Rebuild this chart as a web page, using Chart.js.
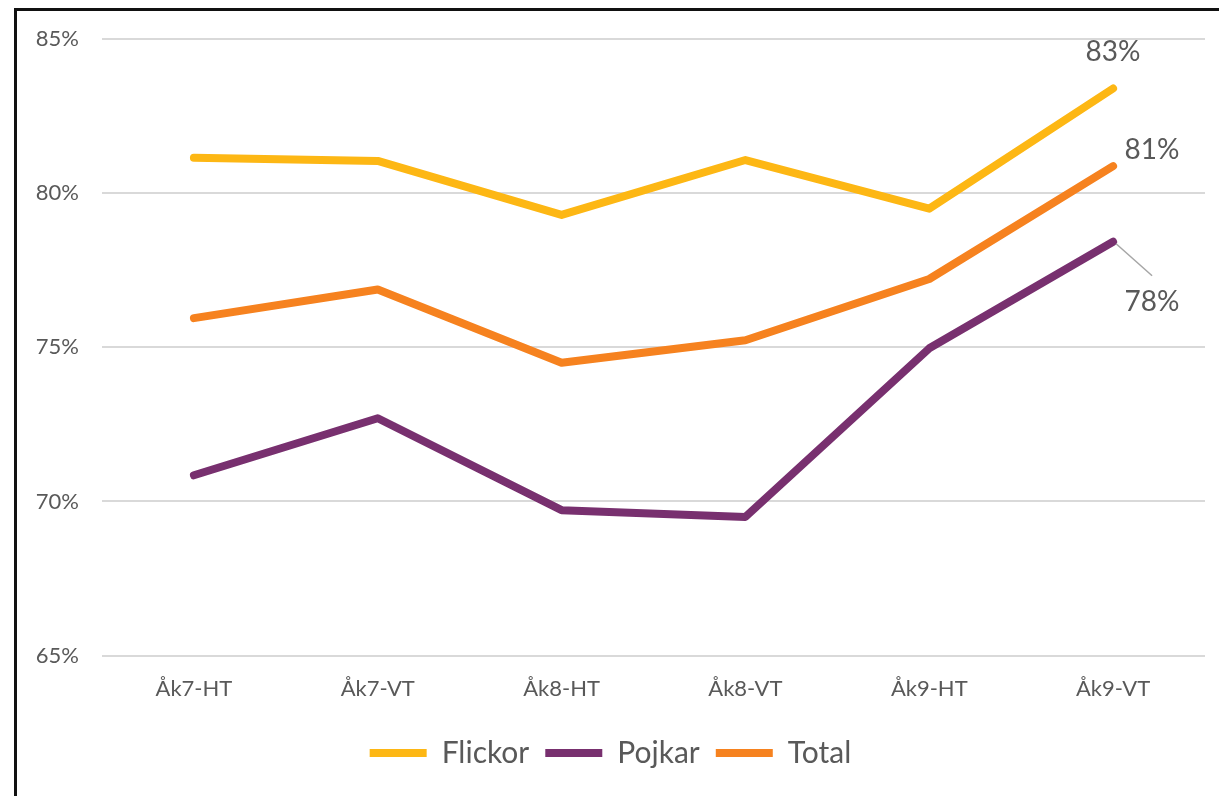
<!DOCTYPE html>
<html>
<head>
<meta charset="utf-8">
<script src="https://cdn.jsdelivr.net/npm/chart.js@4.4.0/dist/chart.umd.min.js"></script>
<style>
  html, body { margin: 0; padding: 0; background: #fff; overflow: hidden; }
  #frame { position: absolute; left: 14px; top: 8px; width: 1300px; height: 900px; border: 3px solid #111; box-sizing: border-box; }
  #wrap { position: absolute; left: 0; top: 3px; width: 1219px; height: 793px; }
</style>
</head>
<body>
<div id="frame"></div>
<div id="wrap"><canvas id="myChart" width="1219" height="793"></canvas></div>
<script>
var categories = ["Åk7-HT", "Åk7-VT", "Åk8-HT", "Åk8-VT", "Åk9-HT", "Åk9-VT"];
var flickor = [81.15, 81.05, 79.3, 81.08, 79.5, 83.4];
var pojkar = [70.85, 72.7, 69.72, 69.5, 74.97, 78.43];
var total = [75.95, 76.88, 74.5, 75.23, 77.22, 80.88];
var lastLabels = ["83%", "78%", "81%"]; // Flickor, Pojkar, Total

var textColor = '#595959';
var fontFamily = 'Lato, "Open Sans", sans-serif';

// labels on the last point of each line
var endLabels = {
  id: 'endLabels',
  afterDatasetsDraw: function(chart) {
    var ctx = chart.ctx;
    ctx.save();
    ctx.font = '28px ' + fontFamily;
    ctx.fillStyle = textColor;
    ctx.textAlign = 'center';
    ctx.textBaseline = 'middle';
    chart.data.datasets.forEach(function(ds, i) {
      var meta = chart.getDatasetMeta(i);
      var pt = meta.data[meta.data.length - 1];
      if (i === 0) {
        ctx.fillText(lastLabels[0], pt.x, pt.y - 37);
      } else if (i === 2) {
        ctx.fillText(lastLabels[2], pt.x + 39, pt.y - 16);
      } else {
        ctx.strokeStyle = '#a6a6a6';
        ctx.lineWidth = 1.5;
        ctx.beginPath();
        ctx.moveTo(pt.x + 3, pt.y + 2);
        ctx.lineTo(pt.x + 39, pt.y + 34);
        ctx.stroke();
        ctx.fillText(lastLabels[1], pt.x + 39, pt.y + 60);
      }
    });
    ctx.restore();
  }
};

var ctx = document.getElementById('myChart').getContext('2d');
var myChart = new Chart(ctx, {
  type: 'line',
  data: {
    labels: categories,
    datasets: [{
      label: 'Flickor',
      data: flickor,
      borderColor: '#FDB714',
      backgroundColor: '#FDB714',
      borderWidth: 8,
      borderCapStyle: 'round',
      borderJoinStyle: 'round',
      pointRadius: 0,
      fill: false
    }, {
      label: 'Pojkar',
      data: pojkar,
      borderColor: '#78306F',
      backgroundColor: '#78306F',
      borderWidth: 8,
      borderCapStyle: 'round',
      borderJoinStyle: 'round',
      pointRadius: 0,
      fill: false
    }, {
      label: 'Total',
      data: total,
      borderColor: '#F6821F',
      backgroundColor: '#F6821F',
      borderWidth: 8,
      borderCapStyle: 'round',
      borderJoinStyle: 'round',
      pointRadius: 0,
      fill: false
    }]
  },
  options: {
    responsive: false,
    animation: false,
    layout: {
      padding: { left: 16, right: 14, top: 35, bottom: 18 }
    },
    plugins: {
      tooltip: { enabled: false },
      legend: {
        position: 'bottom',
        labels: {
          usePointStyle: true,
          pointStyle: 'line',
          pointStyleWidth: 57,
          boxHeight: 8,
          color: textColor,
          padding: 16,
          font: { family: fontFamily, size: 30 }
        }
      }
    },
    scales: {
      y: {
        min: 65,
        max: 85,
        afterFit: function(scale) { scale.width = 86; },
        ticks: {
          stepSize: 5,
          padding: 23,
          color: textColor,
          font: { family: fontFamily, size: 22 },
          callback: function(v) { return v + '%'; }
        },
        grid: { color: '#d9d9d9', lineWidth: 2, drawTicks: false },
        border: { display: false }
      },
      x: {
        offset: true,
        ticks: {
          padding: 20,
          color: textColor,
          font: { family: fontFamily, size: 22 }
        },
        grid: { display: false, drawTicks: false },
        border: { display: false }
      }
    }
  },
  plugins: [endLabels]
});
</script>
</body>
</html>
